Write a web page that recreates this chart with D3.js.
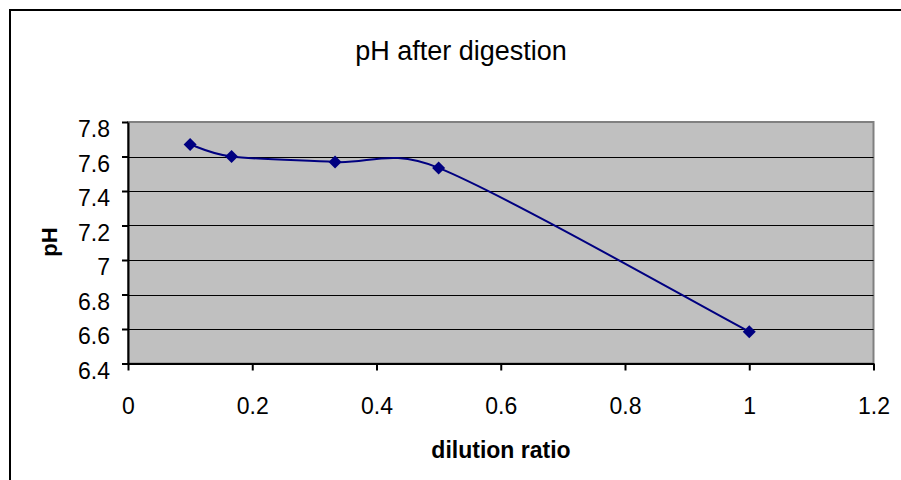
<!DOCTYPE html>
<html>
<head>
<meta charset="utf-8">
<script src="https://cdn.jsdelivr.net/npm/d3@7"></script>
<style>
  html, body { margin: 0; padding: 0; background: #fff; }
  svg { display: block; }
  text { font-family: "Liberation Sans", Arial, sans-serif; fill: #000; }
</style>
</head>
<body>
<svg id="chart" width="901" height="480"></svg>
<script>
// pH measured after digestion at each dilution ratio
const dilutionRatio = [0.1, 1 / 6, 1 / 3, 0.5, 1.0];
const phValues = [7.67, 7.60, 7.568, 7.534, 6.584];

const xTicks = [0, 0.2, 0.4, 0.6, 0.8, 1, 1.2];
const yTicks = [6.4, 6.6, 6.8, 7.0, 7.2, 7.4, 7.6, 7.8];

const chartTitle = "pH after digestion";
const xTitle = "dilution ratio";
const yTitle = "pH";

const svg = d3.select("#chart");

const plot = { left: 128, top: 122, right: 873.5, bottom: 363.5 };

const x = d3.scaleLinear().domain([0, 1.2]).range([plot.left, plot.right]);
const y = d3.scaleLinear().domain([6.4, 7.8]).range([plot.bottom, plot.top]);

const fontStack = "'Liberation Sans', Arial, sans-serif";

// chart area frame
svg.append("rect")
  .attr("x", 10).attr("y", 10)
  .attr("width", 1000).attr("height", 1000)
  .attr("fill", "#fff")
  .attr("stroke", "#000")
  .attr("stroke-width", 2);

// plot area background with grey frame
svg.append("rect")
  .attr("x", plot.left).attr("y", plot.top)
  .attr("width", plot.right - plot.left)
  .attr("height", plot.bottom - plot.top)
  .attr("fill", "#c0c0c0")
  .attr("stroke", "#808080")
  .attr("stroke-width", 2);

// horizontal gridlines
svg.append("g")
  .selectAll("line")
  .data(yTicks.filter(d => d > 6.4 && d < 7.8))
  .join("line")
  .attr("x1", plot.left).attr("x2", plot.right)
  .attr("y1", d => Math.round(y(d)) + 0.5)
  .attr("y2", d => Math.round(y(d)) + 0.5)
  .attr("stroke", "#000")
  .attr("stroke-width", 1);

const fmt = d => String(+d.toFixed(1));

// y axis
const yAxis = svg.append("g")
  .attr("transform", `translate(${plot.left},0)`)
  .call(d3.axisLeft(y).tickValues(yTicks).tickSize(6).tickSizeOuter(0).tickFormat(fmt));
yAxis.select(".domain").attr("stroke", "#000").attr("stroke-width", 2);
yAxis.selectAll(".tick line").attr("stroke", "#000").attr("stroke-width", 2);
yAxis.selectAll(".tick text")
  .attr("x", -18)
  .attr("dy", 14.5)
  .style("font-size", "23px")
  .style("font-family", fontStack)
  .attr("fill", "#000");

// x axis
const xAxis = svg.append("g")
  .attr("transform", `translate(0,${plot.bottom})`)
  .call(d3.axisBottom(x).tickValues(xTicks).tickSize(7).tickSizeOuter(0).tickFormat(fmt));
xAxis.select(".domain").attr("stroke", "#000").attr("stroke-width", 2);
xAxis.selectAll(".tick line").attr("stroke", "#000").attr("stroke-width", 2);
xAxis.selectAll(".tick text")
  .attr("y", 50.5)
  .attr("dy", null)
  .style("font-size", "23px")
  .style("font-family", fontStack)
  .attr("fill", "#000");

// smoothed line: cubic Bezier segments whose control handles follow the
// neighbouring points (1/6 of the chord) but never reach past half the segment
function smoothPath(pts) {
  const p = d3.path();
  const dist = (a, b) => Math.hypot(b[0] - a[0], b[1] - a[1]);
  p.moveTo(pts[0][0], pts[0][1]);
  for (let i = 0; i < pts.length - 1; i++) {
    const p0 = pts[Math.max(i - 1, 0)];
    const p1 = pts[i];
    const p2 = pts[i + 1];
    const p3 = pts[Math.min(i + 2, pts.length - 1)];
    const d12 = dist(p1, p2);
    const d02 = dist(p0, p2);
    const d13 = dist(p1, p3);
    const f1 = d02 / 6 < d12 / 2 ? 1 / 6 : d12 / (2 * d02);
    const f2 = d13 / 6 < d12 / 2 ? 1 / 6 : d12 / (2 * d13);
    p.bezierCurveTo(
      p1[0] + f1 * (p2[0] - p0[0]), p1[1] + f1 * (p2[1] - p0[1]),
      p2[0] - f2 * (p3[0] - p1[0]), p2[1] - f2 * (p3[1] - p1[1]),
      p2[0], p2[1]);
  }
  return p.toString();
}

const points = dilutionRatio.map((d, i) => [d, phValues[i]]);
const screenPoints = points.map(d => [x(d[0]), y(d[1])]);

svg.append("path")
  .attr("d", smoothPath(screenPoints))
  .attr("fill", "none")
  .attr("stroke", "#000080")
  .attr("stroke-width", 2);

// diamond markers
svg.append("g")
  .selectAll("path")
  .data(points)
  .join("path")
  .attr("transform", d => `translate(${x(d[0])},${y(d[1])})`)
  .attr("d", "M0,-6.5L6.5,0L0,6.5L-6.5,0Z")
  .attr("fill", "#000080");

// titles
svg.append("text")
  .attr("x", 461).attr("y", 60)
  .attr("text-anchor", "middle")
  .style("font-size", "27px")
  .text(chartTitle);

svg.append("text")
  .attr("x", 501).attr("y", 458)
  .attr("text-anchor", "middle")
  .style("font-size", "23px")
  .style("font-weight", "bold")
  .text(xTitle);

svg.append("text")
  .attr("transform", "translate(56.5,242) rotate(-90)")
  .attr("text-anchor", "middle")
  .style("font-size", "22px")
  .style("font-weight", "bold")
  .text(yTitle);
</script>
</body>
</html>
